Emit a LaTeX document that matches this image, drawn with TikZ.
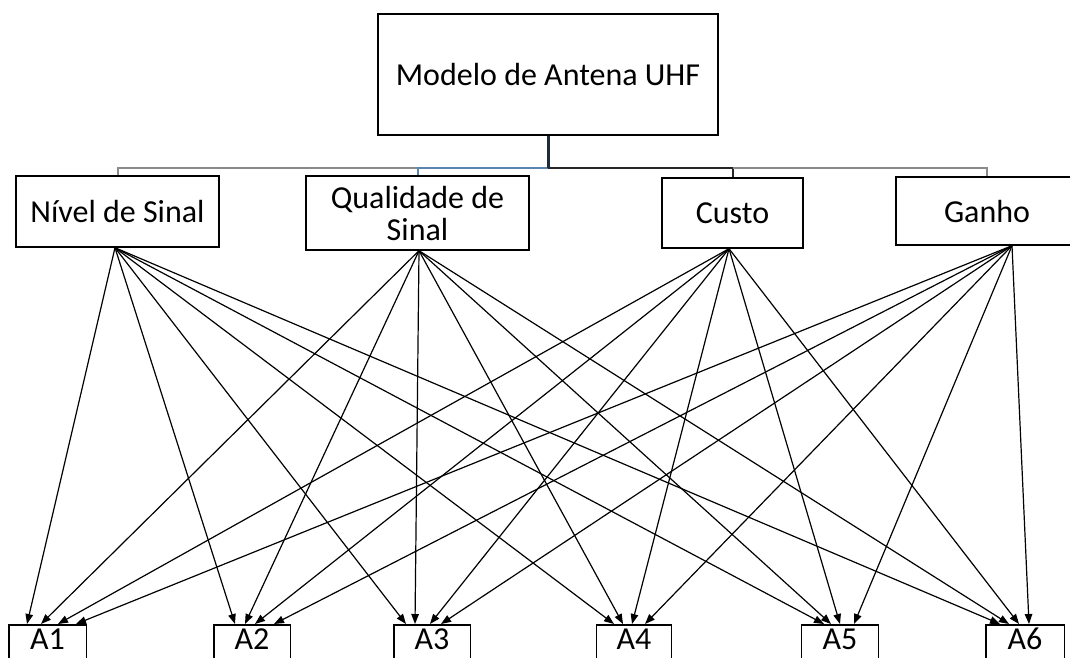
\documentclass[tikz,border=0pt]{standalone}
\usepackage{fontspec}
\setmainfont{Carlito}
\usetikzlibrary{arrows.meta}
\definecolor{busgray}{HTML}{8A8A8A}
\definecolor{busblue}{HTML}{5B84B1}
\definecolor{busdark}{HTML}{262626}
\definecolor{busnavy}{HTML}{1E2B3A}
\begin{document}
\begin{tikzpicture}[x=1pt,y=-1pt,
  box/.style={draw=black,line width=1.4pt,inner sep=0pt,font=\fontsize{32}{32}\selectfont,align=center},
  abox/.style={inner xsep=0pt,inner ysep=0pt,text height=20pt,text depth=0pt,
    font=\fontsize{32}{32}\selectfont,anchor=north,minimum width=76pt},
  frame/.style={draw=black,line width=1.4pt},
  arr/.style={-{Triangle[length=10pt,width=7.5pt]},line width=1.2pt,draw=black},
  conn/.style={line width=2pt}]
\useasboundingbox (0,0) rectangle (1070,657);
\clip (0,0) rectangle (1070,657);
\fill[white] (0,0) rectangle (1070,657);

% nodes
\node[box,minimum width=340pt,minimum height=121pt] (top) at (548,74.5) {Modelo de Antena UHF};
\node[box,minimum width=203pt,minimum height=71pt] (niv) at (117.5,211.5) {Nível de Sinal};
\node[box,minimum width=223pt,minimum height=74pt] (qua) at (417.5,213) {Qualidade de\\Sinal};
\node[box,minimum width=141pt,minimum height=70pt] (cus) at (732.5,213) {Custo};
\node[box,minimum width=182pt,minimum height=68pt] (gan) at (987,211) {Ganho};

\node[abox,minimum width=77pt] (a1) at (47.5,629) {A1};
\node[abox] (a2) at (252,629) {A2};
\node[abox] (a3) at (432,629) {A3};
\node[abox,minimum width=75pt] (a4) at (634,629) {A4};
\node[abox,minimum width=77pt] (a5) at (840,629) {A5};
\node[abox,minimum width=78pt] (a6) at (1025,629) {A6};

% frames of the alternative boxes (cut by the lower edge)
\foreach \a in {a1,a2,a3,a4,a5,a6}
  \draw[frame] ([yshift=-15pt]\a.south west) |- ([yshift=4pt]\a.north east) -- ([yshift=-15pt]\a.south east);

% hierarchy connectors
\coordinate (bus) at (548,168);
\draw[conn,busgray] (niv.north) -- (niv.north |- bus) -- (qua.north |- bus);
\draw[conn,busblue] (qua.north) -- (qua.north |- bus) -- (bus);
\draw[conn,busdark] (bus) -- (cus.north |- bus) -- (cus.north);
\draw[conn,busgray] (cus.north |- bus) -- (gan.north |- bus) -- (gan.north);
\draw[line width=3pt,busnavy] (top.south) -- (bus);

% arrows from criteria to alternatives
\foreach \s/\sx/\t/\tx in {
  niv/-2.5/a1/-20.5, niv/-2.5/a2/-17, niv/-2.5/a3/-26, niv/-2.5/a4/-20, niv/-2.5/a5/-16, niv/-2.5/a6/-25,
  qua/1.5/a1/-6.5, qua/1.5/a2/-7, qua/1.5/a3/-17, qua/1.5/a4/-11, qua/1.5/a5/-9, qua/1.5/a6/-16,
  cus/-3.5/a1/10.5, cus/-3.5/a2/3, cus/-3.5/a3/-2, cus/-3.5/a4/-2, cus/-3.5/a5/0, cus/-3.5/a6/-6,
  gan/25/a1/28.5, gan/25/a2/22, gan/25/a3/9, gan/25/a4/11, gan/25/a5/14, gan/25/a6/4}
  \draw[arr] ([xshift=\sx pt]\s.south) -- ([xshift=\tx pt,yshift=5pt]\t.north);
\end{tikzpicture}
\end{document}
